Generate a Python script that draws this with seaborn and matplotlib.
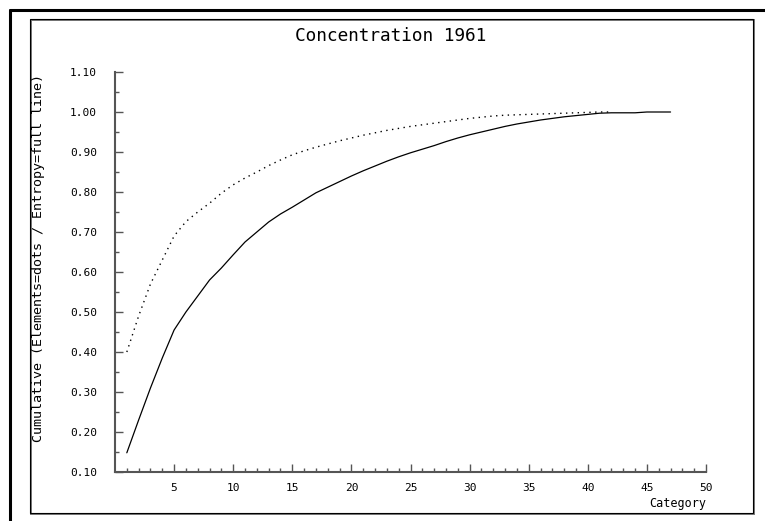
import numpy as np
import pandas as pd
import seaborn as sns
import matplotlib.pyplot as plt
from matplotlib.lines import Line2D
from matplotlib.patches import Rectangle

# values
entropy_cat = list(range(1, 48))
entropy = [0.148, 0.23, 0.31, 0.385, 0.455, 0.50, 0.54, 0.58, 0.61, 0.643,
           0.675, 0.70, 0.725, 0.745, 0.762, 0.78, 0.798, 0.812, 0.826, 0.84,
           0.853, 0.865, 0.877, 0.888, 0.898, 0.907, 0.916, 0.926, 0.935, 0.943,
           0.95, 0.957, 0.964, 0.970, 0.975, 0.980, 0.984, 0.988, 0.991, 0.994,
           0.997, 0.998, 0.998, 0.998, 1.0, 1.0, 1.0]

elements_cat = list(range(1, 43))
elements = [0.40, 0.49, 0.57, 0.63, 0.69, 0.726, 0.75, 0.772, 0.797, 0.818,
            0.835, 0.85, 0.866, 0.88, 0.893, 0.903, 0.912, 0.92, 0.928, 0.935,
            0.942, 0.948, 0.954, 0.959, 0.964, 0.968, 0.972, 0.976, 0.98, 0.984,
            0.987, 0.99, 0.992, 0.993, 0.994, 0.995, 0.996, 0.997, 0.998, 0.999,
            1.0, 1.0]

y_ticks = [0.10, 0.20, 0.30, 0.40, 0.50, 0.60, 0.70, 0.80, 0.90, 1.00, 1.10]
x_ticks = [5, 10, 15, 20, 25, 30, 35, 40, 45, 50]

df_ent = pd.DataFrame({"Category": entropy_cat, "value": entropy})
df_el = pd.DataFrame({"Category": elements_cat, "value": elements})

sns.set_style("ticks")
plt.rcParams['font.family'] = ['DejaVu Sans Mono']
plt.rcParams['text.color'] = 'black'
plt.rcParams['xtick.labelcolor'] = 'black'
plt.rcParams['ytick.labelcolor'] = 'black'

W, H = 765, 521
fig = plt.figure(figsize=(W / 100, H / 100), dpi=100)

# outer heavy border (top + left) and inner frame
fig.add_artist(Line2D([10 / W, 1], [1 - 10 / H, 1 - 10 / H], color='black', lw=2.2,
                      transform=fig.transFigure))
fig.add_artist(Line2D([10 / W, 10 / W], [0, 1 - 10 / H], color='black', lw=2.2,
                      transform=fig.transFigure))
fig.add_artist(Rectangle((31 / W, 1 - 514 / H), 723 / W, 494 / H, fill=False,
                         edgecolor='#777777', lw=1.4, transform=fig.transFigure))
fig.add_artist(Rectangle((30 / W, 1 - 513 / H), 723 / W, 494 / H, fill=False,
                         edgecolor='black', lw=0.8, transform=fig.transFigure))

ax = fig.add_axes([115 / W, 1 - 472 / H, (706 - 115) / W, 400 / H])

sns.lineplot(data=df_ent, x="Category", y="value", ax=ax, color='black', lw=0.9)
sns.lineplot(data=df_el, x="Category", y="value", ax=ax, color='black', lw=1.0,
             linestyle=(0, (1, 3.2)))

ax.set_xlim(0, 50)
ax.set_ylim(0.10, 1.10)
ax.set_xticks(x_ticks)
ax.set_xticks(range(1, 50), minor=True)
ax.set_yticks(y_ticks)
ax.set_yticks(np.arange(0.15, 1.1, 0.1), minor=True)
ax.set_yticklabels([f"{v:.2f}" for v in y_ticks])
ax.set_xlabel("")
ax.set_ylabel("")

sns.despine(ax=ax)
for s in ['left', 'bottom']:
    ax.spines[s].set_color('#555555')
    ax.spines[s].set_linewidth(1.5)

ax.tick_params(axis='both', which='major', direction='in', length=6, width=1,
               color='#555555', labelsize=8)
ax.tick_params(axis='both', which='minor', direction='in', length=3, width=1,
               color='#555555')
ax.tick_params(axis='y', which='major', pad=13)
ax.tick_params(axis='x', which='major', pad=8)

fig.text(391 / W, 1 - 36 / H, "Concentration 1961", ha='center', va='center',
         fontsize=12.8)
fig.text(39 / W, 1 - 258 / H, "Cumulative (Elements=dots / Entropy=full line)",
         rotation=90, ha='center', va='center', fontsize=9.6)
fig.text(706 / W, 1 - 503 / H, "Category", ha='right', va='center', fontsize=8.5)

fig.savefig("out.png", dpi=100)
